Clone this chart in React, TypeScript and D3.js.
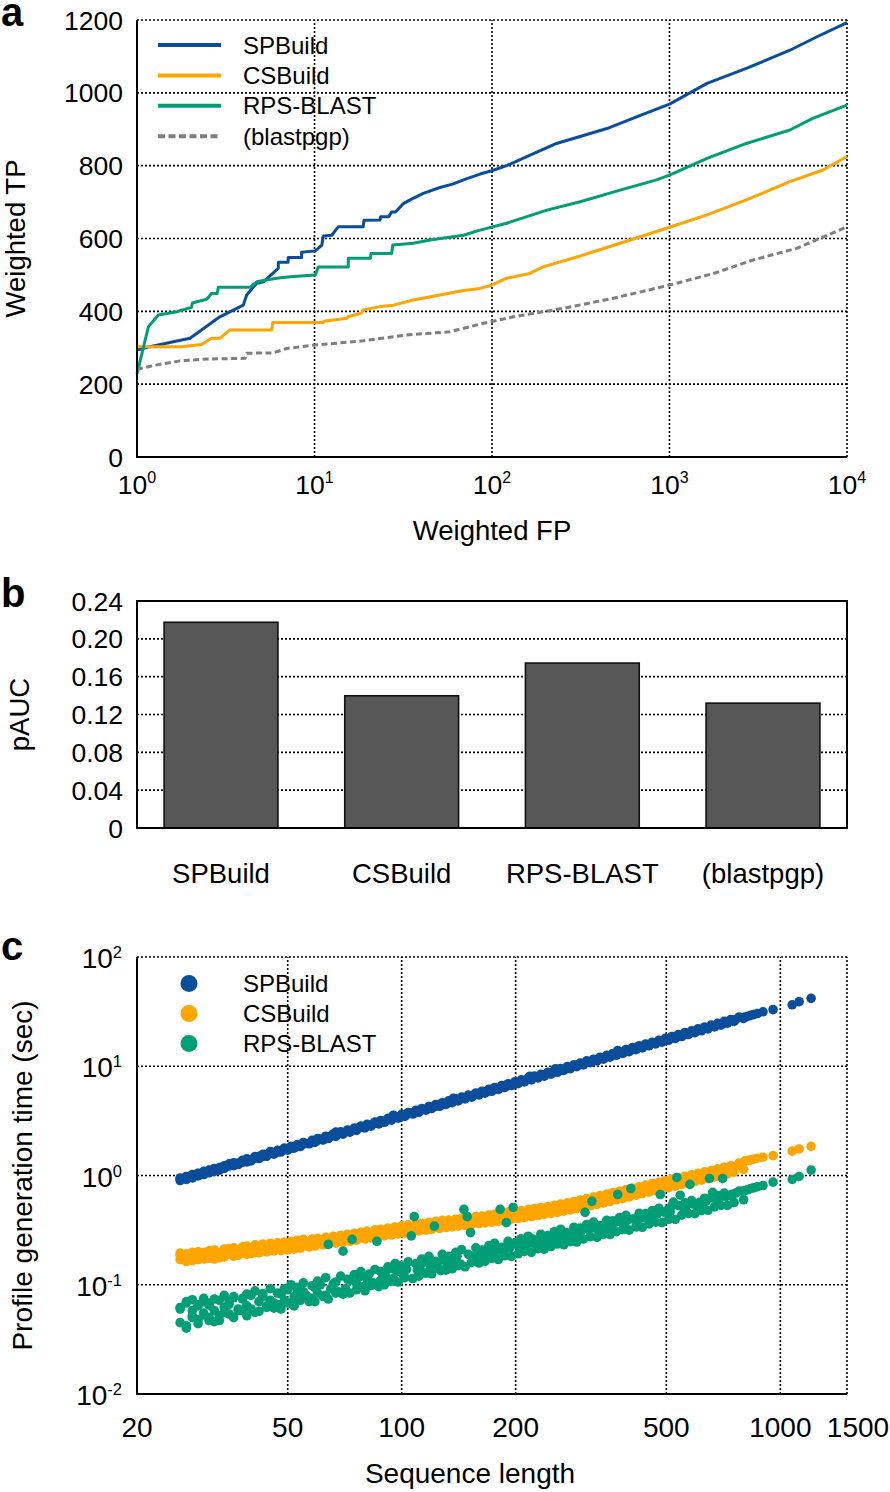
import React from 'react';
import * as d3 from 'd3';

const FONT = '"Liberation Sans", Arial, Helvetica, sans-serif';
const BLUE = '#0a4d9a';
const ORANGE = '#ffa500';
const GREEN = '#009e76';
const GRAY = '#7f7f7f';

// ---------- Panel a: weighted ROC-like curves ----------
const spbuildFP = [1, 1.18, 1.99, 2.93, 3.97, 4.15, 4.72, 5.15, 6.25, 6.25, 7.1, 7.1, 8.46, 8.46, 10.1, 11.0, 11.2, 12.5, 13.6, 18.8, 19.0, 23.4, 23.6, 26.2, 27.2, 28.6, 31.5, 34.5, 41, 50.9, 60.6, 69, 85.6, 99.6, 121, 157, 231, 444, 652, 1000, 1627, 2710, 4770, 6780, 10000];
const spbuildTP = [294, 303, 326, 385, 417, 445, 477, 481, 518, 535, 535, 548, 548, 562, 566, 582, 607, 609, 632, 632, 650, 651, 660, 660, 673, 673, 695, 706, 724, 740, 750, 761, 777, 786, 800, 825, 861, 902, 934, 969, 1026, 1067, 1117, 1154, 1193];
const csbuildFP = [1, 1.78, 2.31, 2.63, 2.93, 3.34, 5.74, 5.82, 11.2, 11.3, 15.3, 15.4, 18.4, 18.8, 23.4, 27.9, 36, 50.9, 69, 85.6, 99.6, 121, 163, 194, 314, 527, 1000, 1627, 2710, 4770, 7320, 10000];
const csbuildTP = [303, 303, 309, 326, 326, 349, 349, 369, 369, 373, 381, 385, 395, 404, 413, 417, 431, 445, 457, 463, 472, 491, 504, 522, 552, 587, 631, 665, 706, 756, 788, 825];
const rpsFP = [1, 1.16, 1.32, 1.67, 2.03, 2.05, 2.47, 2.63, 2.83, 2.87, 4.33, 4.72, 6.1, 7.3, 10.1, 10.5, 15.5, 15.5, 20.7, 20.8, 27.2, 27.6, 36, 44.8, 69, 85.6, 121, 204, 314, 527, 845, 1000, 1627, 2710, 4770, 6410, 10000];
const rpsTP = [228, 358, 390, 399, 411, 423, 433, 449, 449, 466, 466, 481, 491, 495, 500, 522, 522, 546, 546, 559, 559, 582, 587, 596, 609, 623, 642, 678, 701, 733, 761, 774, 820, 861, 898, 930, 966];
const blastFP = [1, 1.29, 1.75, 2.47, 4.06, 4.15, 5.87, 6.97, 9.85, 18.8, 33, 58, 85.6, 132, 251, 483, 1000, 1770, 2960, 5200, 10000];
const blastTP = [241, 253, 264, 269, 271, 285, 286, 298, 307, 319, 335, 344, 365, 385, 408, 436, 472, 504, 541, 573, 632];

const methodNames = ['SPBuild', 'CSBuild', 'RPS-BLAST', '(blastpgp)'];
const yTicksA = [0, 200, 400, 600, 800, 1000, 1200];
const xExpA = [0, 1, 2, 3, 4];

// ---------- Panel b: pAUC ----------
const pauc = [0.2175, 0.1398, 0.1744, 0.132];
const yTicksB = [0, 0.04, 0.08, 0.12, 0.16, 0.2, 0.24];
const yTickLabelsB = ['0', '0.04', '0.08', '0.12', '0.16', '0.20', '0.24'];

// ---------- Panel c: profile generation time ----------
const seqLengths = [
  26, 26, 27, 27, 28, 28, 29, 29, 30, 30,
  31, 31, 32, 33, 33, 34, 35, 35, 36, 37,
  38, 38, 39, 40, 41, 42, 43, 44, 45, 46,
  47, 48, 49, 50, 51, 52, 53, 54, 55, 56,
  58, 59, 60, 61, 63, 64, 65, 67, 68, 70,
  71, 73, 74, 76, 77, 79, 81, 82, 84, 86,
  88, 89, 91, 93, 95, 97, 99, 101, 103, 106,
  108, 110, 112, 115, 117, 119, 122, 124, 127, 129,
  132, 135, 137, 140, 143, 146, 149, 152, 155, 158,
  161, 165, 168, 171, 175, 178, 182, 186, 189, 193,
  197, 201, 205, 209, 213, 218, 222, 226, 231, 236,
  240, 245, 250, 255, 260, 266, 271, 276, 282, 288,
  293, 299, 305, 311, 318, 324, 331, 337, 344, 351,
  358, 365, 372, 380, 388, 395, 403, 411, 420, 428,
  437, 445, 454, 464, 473, 482, 492, 502, 512, 522,
  533, 544, 555, 566, 577, 589, 600, 612, 625, 637,
  650, 663, 676, 690, 704, 718, 732, 747, 762, 795,
  807, 820, 835, 850, 870, 900, 957, 1075, 1121, 1206,
];
const spbuildTime = [
  0.90, 0.93, 0.94, 0.97, 0.97, 1.00, 1.01, 1.04, 1.04, 1.07,
  1.08, 1.11, 1.12, 1.15, 1.18, 1.19, 1.22, 1.27, 1.26, 1.30,
  1.32, 1.36, 1.37, 1.40, 1.44, 1.50, 1.50, 1.55, 1.66, 1.62,
  1.64, 1.69, 1.72, 1.76, 1.78, 1.83, 1.86, 1.89, 1.94, 1.96,
  2.03, 2.09, 2.10, 2.16, 2.20, 2.25, 2.28, 2.50, 2.40, 2.45,
  2.49, 2.56, 2.60, 2.66, 2.72, 2.77, 2.84, 2.88, 2.95, 3.01,
  3.08, 3.13, 3.19, 3.26, 3.55, 3.40, 3.47, 3.54, 3.61, 3.72,
  3.79, 3.86, 3.93, 4.02, 4.11, 4.17, 4.28, 4.35, 4.44, 4.52,
  4.63, 4.72, 5.10, 4.91, 5.00, 5.12, 5.22, 5.33, 5.43, 5.53,
  5.64, 5.78, 5.88, 5.99, 6.13, 6.24, 6.37, 6.52, 6.62, 6.76,
  6.90, 7.04, 7.18, 7.32, 7.46, 8.10, 7.78, 7.91, 8.09, 8.27,
  8.41, 8.58, 8.76, 9.50, 9.11, 9.32, 9.49, 9.67, 9.88, 10.1,
  10.3, 10.5, 10.7, 10.9, 11.1, 11.3, 11.6, 11.8, 12.0, 12.3,
  12.5, 12.8, 13.9, 13.3, 13.6, 13.8, 14.1, 14.4, 14.7, 15.0,
  15.3, 15.6, 15.9, 16.2, 16.6, 16.9, 17.2, 17.6, 17.9, 18.3,
  18.7, 19.0, 19.4, 19.8, 20.2, 20.6, 21.0, 21.4, 21.9, 22.3,
  22.8, 23.2, 23.7, 24.2, 24.6, 25.1, 25.6, 26.1, 26.7, 27.8,
  28.2, 28.6, 29.2, 29.7, 30.4, 31.5, 33.0, 36.5, 39.0, 41.9,
];
const csbuildTime = [
  0.170, 0.185, 0.175, 0.168, 0.182, 0.176, 0.190, 0.172, 0.180, 0.186,
  0.184, 0.176, 0.190, 0.186, 0.196, 0.181, 0.193, 0.200, 0.188, 0.195,
  0.196, 0.206, 0.200, 0.212, 0.198, 0.214, 0.205, 0.222, 0.208, 0.215,
  0.212, 0.222, 0.216, 0.228, 0.220, 0.232, 0.224, 0.240, 0.226, 0.236,
  0.236, 0.244, 0.240, 0.250, 0.243, 0.256, 0.248, 0.262, 0.252, 0.258,
  0.260, 0.268, 0.264, 0.276, 0.268, 0.282, 0.274, 0.290, 0.280, 0.286,
  0.288, 0.300, 0.294, 0.306, 0.298, 0.314, 0.304, 0.320, 0.310, 0.326,
  0.318, 0.330, 0.324, 0.340, 0.330, 0.346, 0.336, 0.352, 0.342, 0.356,
  0.348, 0.360, 0.352, 0.366, 0.356, 0.372, 0.362, 0.378, 0.368, 0.382,
  0.376, 0.392, 0.384, 0.398, 0.390, 0.406, 0.396, 0.414, 0.404, 0.420,
  0.416, 0.432, 0.424, 0.440, 0.432, 0.450, 0.440, 0.458, 0.448, 0.466,
  0.462, 0.480, 0.474, 0.494, 0.486, 0.506, 0.498, 0.520, 0.510, 0.530,
  0.540, 0.556, 0.552, 0.574, 0.566, 0.590, 0.582, 0.606, 0.598, 0.624,
  0.640, 0.656, 0.668, 0.690, 0.684, 0.706, 0.702, 0.726, 0.722, 0.748,
  0.742, 0.768, 0.764, 0.790, 0.786, 0.816, 0.810, 0.840, 0.834, 0.866,
  0.860, 0.892, 0.890, 0.920, 0.916, 0.950, 0.946, 0.980, 0.976, 1.010,
  1.050, 1.070, 1.090, 1.110, 1.130, 1.150, 1.170, 1.200, 1.220, 1.290,
  1.36, 1.37, 1.39, 1.41, 1.44, 1.47, 1.52, 1.67, 1.75, 1.85,
];
const rpsTime = [
  0.045, 0.062, 0.040, 0.070, 0.052, 0.058, 0.066, 0.048, 0.075, 0.055,
  0.050, 0.068, 0.058, 0.072, 0.047, 0.062, 0.066, 0.054, 0.078, 0.060,
  0.058, 0.075, 0.064, 0.080, 0.056, 0.070, 0.083, 0.062, 0.072, 0.068,
  0.066, 0.082, 0.072, 0.090, 0.068, 0.078, 0.095, 0.074, 0.086, 0.080,
  0.075, 0.094, 0.084, 0.100, 0.080, 0.234, 0.092, 0.106, 0.086, 0.203,
  0.092, 0.110, 0.260, 0.102, 0.118, 0.096, 0.112, 0.125, 0.104, 0.250,
  0.110, 0.128, 0.118, 0.140, 0.114, 0.132, 0.150, 0.124, 0.138, 0.280,
  0.420, 0.136, 0.150, 0.128, 0.160, 0.142, 0.344, 0.155, 0.135, 0.168,
  0.150, 0.172, 0.160, 0.182, 0.155, 0.490, 0.420, 0.300, 0.176, 0.195,
  0.176, 0.200, 0.188, 0.212, 0.180, 0.205, 0.490, 0.196, 0.370, 0.218,
  0.510, 0.236, 0.220, 0.250, 0.212, 0.242, 0.262, 0.230, 0.256, 0.240,
  0.250, 0.276, 0.262, 0.288, 0.256, 0.280, 0.300, 0.272, 0.294, 0.284,
  0.292, 0.316, 0.460, 0.322, 0.580, 0.330, 0.316, 0.344, 0.330, 0.356,
  0.344, 0.370, 0.670, 0.376, 0.366, 0.392, 0.760, 0.400, 0.384, 0.414,
  0.410, 0.436, 0.428, 0.456, 0.444, 0.670, 0.462, 0.480, 0.466, 0.570,
  0.960, 0.660, 0.510, 0.536, 0.830, 0.548, 0.540, 0.568, 0.558, 0.584,
  0.940, 0.700, 0.610, 0.620, 0.940, 0.640, 0.660, 0.672, 0.690, 0.720,
  0.73, 0.74, 0.76, 0.77, 0.79, 0.81, 0.87, 0.92, 0.98, 1.12,
];
// second batch of sequences (dense region)
const seqLengths2 = [
  26, 27, 27, 28, 28, 29, 29, 30, 30, 31,
  31, 32, 32, 33, 34, 34, 35, 36, 36, 37,
  38, 39, 39, 40, 41, 42, 43, 44, 45, 46,
  47, 48, 49, 50, 51, 52, 53, 54, 55, 57,
  58, 59, 60, 62, 63, 64, 66, 67, 69, 70,
  72, 73, 75, 76, 78, 80, 81, 83, 85, 87,
  88, 90, 92, 94, 96, 98, 100, 102, 104, 107,
  109, 111, 113, 116, 118, 120, 123, 126, 128, 131,
  133, 136, 139, 141, 144, 147, 150, 153, 157, 160,
  163, 166, 170, 173, 176, 180, 184, 187, 191, 195,
  199, 203, 207, 211, 216, 220, 224, 229, 233, 238,
  243, 248, 253, 258, 263, 268, 274, 279, 285, 290,
  296, 302, 308, 315, 321, 328, 334, 341, 348, 355,
  361, 369, 376, 384, 391, 399, 407, 416, 424, 432,
  441, 450, 459, 468, 478, 487, 497, 507, 517, 528,
  538, 549, 560, 572, 583, 595, 606, 619, 631, 644,
  657, 670, 683, 697, 711, 725, 740, 755, 778, 800,
];
const spbuildTime2 = [
  0.95, 0.92, 0.98, 0.95, 1.02, 0.99, 1.05, 1.02, 1.09, 1.06,
  1.12, 1.09, 1.16, 1.12, 1.23, 1.16, 1.27, 1.23, 1.31, 1.26,
  1.38, 1.33, 1.42, 1.36, 1.49, 1.43, 1.56, 1.50, 1.63, 1.57,
  1.70, 1.64, 1.78, 1.71, 1.85, 1.78, 1.92, 1.84, 2.00, 1.95,
  2.10, 2.01, 2.18, 2.11, 2.29, 2.18, 2.40, 2.28, 2.51, 2.39,
  2.61, 2.49, 2.72, 2.59, 2.83, 2.73, 2.94, 2.83, 3.09, 2.97,
  3.19, 3.07, 3.34, 3.21, 3.48, 3.35, 3.63, 3.48, 3.77, 3.65,
  3.95, 3.79, 4.10, 3.96, 4.28, 4.10, 4.46, 4.30, 4.64, 4.47,
  4.82, 4.64, 5.04, 4.81, 5.22, 5.02, 5.44, 5.22, 5.69, 5.46,
  5.91, 5.67, 6.16, 5.90, 6.38, 6.14, 6.67, 6.38, 6.92, 6.66,
  7.21, 6.93, 7.50, 7.20, 7.83, 7.51, 8.12, 7.82, 8.44, 8.12,
  8.80, 8.47, 9.17, 8.81, 9.53, 9.15, 9.93, 9.52, 10.3, 9.90,
  10.7, 10.3, 11.2, 10.8, 11.6, 11.2, 12.1, 11.6, 12.6, 12.1,
  13.1, 12.6, 13.6, 13.1, 14.2, 13.6, 14.8, 14.2, 15.4, 14.7,
  16.0, 15.4, 16.6, 16.0, 17.3, 16.6, 18.0, 17.3, 18.7, 18.0,
  19.5, 18.7, 20.3, 19.5, 21.1, 20.3, 22.0, 21.1, 22.9, 22.0,
  23.8, 22.9, 24.7, 23.8, 25.8, 24.8, 26.8, 25.8, 28.2, 27.4,
];
const csbuildTime2 = [
  0.195, 0.163, 0.192, 0.166, 0.198, 0.170, 0.200, 0.172, 0.197, 0.175,
  0.205, 0.172, 0.208, 0.176, 0.212, 0.180, 0.215, 0.183, 0.218, 0.186,
  0.222, 0.190, 0.226, 0.193, 0.232, 0.196, 0.236, 0.200, 0.240, 0.204,
  0.242, 0.205, 0.246, 0.209, 0.250, 0.212, 0.255, 0.216, 0.260, 0.222,
  0.262, 0.226, 0.266, 0.232, 0.272, 0.236, 0.278, 0.240, 0.284, 0.246,
  0.290, 0.250, 0.296, 0.256, 0.302, 0.262, 0.310, 0.268, 0.318, 0.276,
  0.322, 0.280, 0.330, 0.285, 0.338, 0.292, 0.346, 0.298, 0.354, 0.306,
  0.360, 0.310, 0.366, 0.316, 0.372, 0.322, 0.380, 0.328, 0.388, 0.334,
  0.392, 0.338, 0.398, 0.344, 0.406, 0.350, 0.412, 0.356, 0.420, 0.362,
  0.426, 0.368, 0.434, 0.374, 0.442, 0.380, 0.452, 0.388, 0.462, 0.398,
  0.468, 0.404, 0.478, 0.412, 0.488, 0.420, 0.498, 0.430, 0.510, 0.440,
  0.520, 0.450, 0.534, 0.460, 0.548, 0.472, 0.562, 0.484, 0.578, 0.498,
  0.596, 0.512, 0.614, 0.528, 0.634, 0.544, 0.654, 0.560, 0.676, 0.580,
  0.696, 0.600, 0.718, 0.618, 0.742, 0.638, 0.766, 0.660, 0.790, 0.682,
  0.816, 0.704, 0.842, 0.726, 0.868, 0.750, 0.896, 0.774, 0.924, 0.800,
  0.954, 0.826, 0.984, 0.852, 1.016, 0.880, 1.048, 0.906, 1.080, 0.936,
  1.110, 0.966, 1.150, 1.000, 1.190, 1.036, 1.230, 1.074, 1.300, 1.140,
];
const rpsTime2 = [
  0.060, 0.042, 0.068, 0.050, 0.073, 0.044, 0.064, 0.053, 0.070, 0.047,
  0.065, 0.046, 0.074, 0.052, 0.080, 0.056, 0.070, 0.050, 0.076, 0.058,
  0.074, 0.052, 0.082, 0.060, 0.088, 0.057, 0.078, 0.064, 0.092, 0.061,
  0.084, 0.060, 0.092, 0.068, 0.100, 0.064, 0.088, 0.072, 0.104, 0.070,
  0.098, 0.070, 0.108, 0.078, 0.116, 0.074, 0.102, 0.084, 0.120, 0.082,
  0.112, 0.084, 0.124, 0.090, 0.132, 0.088, 0.118, 0.098, 0.138, 0.096,
  0.132, 0.100, 0.146, 0.108, 0.156, 0.106, 0.140, 0.116, 0.162, 0.114,
  0.156, 0.120, 0.172, 0.128, 0.182, 0.126, 0.164, 0.138, 0.190, 0.136,
  0.182, 0.140, 0.198, 0.150, 0.210, 0.146, 0.190, 0.160, 0.218, 0.158,
  0.208, 0.164, 0.228, 0.174, 0.240, 0.170, 0.220, 0.184, 0.250, 0.182,
  0.242, 0.192, 0.264, 0.202, 0.278, 0.198, 0.256, 0.214, 0.290, 0.212,
  0.282, 0.224, 0.306, 0.236, 0.322, 0.232, 0.298, 0.248, 0.336, 0.246,
  0.330, 0.262, 0.356, 0.276, 0.374, 0.272, 0.346, 0.290, 0.390, 0.288,
  0.384, 0.306, 0.412, 0.320, 0.432, 0.316, 0.400, 0.338, 0.452, 0.336,
  0.448, 0.360, 0.478, 0.374, 0.502, 0.370, 0.466, 0.396, 0.528, 0.396,
  0.530, 0.434, 0.562, 0.450, 0.590, 0.448, 0.552, 0.478, 0.620, 0.480,
  0.624, 0.516, 0.656, 0.532, 0.690, 0.532, 0.650, 0.566, 0.720, 0.600,
];
const scatterNames = ['SPBuild', 'CSBuild', 'RPS-BLAST'];
const xTicksC = [20, 50, 100, 200, 500, 1000, 1500];
const yExpC = [-2, -1, 0, 1, 2];

const GRID = { stroke: '#000', strokeWidth: 1.6, strokeDasharray: '2,2' };

function Pow({ exp, size, supSize, dy }: { exp: number; size: number; supSize: number; dy: number }) {
  return (
    <>
      <tspan fontSize={size}>10</tspan>
      <tspan fontSize={supSize} dy={dy}>{String(exp)}</tspan>
    </>
  );
}

export default function App() {
  // Panel a scales
  const xA = d3.scaleLog().domain([1, 1e4]).range([137, 847]);
  const yA = d3.scaleLinear().domain([0, 1200]).range([457, 20]);
  const lineA = d3.line<[number, number]>().x(d => xA(d[0])).y(d => yA(d[1]));
  const seriesA = [
    { name: methodNames[0], color: BLUE, fp: spbuildFP, tp: spbuildTP, dash: undefined },
    { name: methodNames[1], color: ORANGE, fp: csbuildFP, tp: csbuildTP, dash: undefined },
    { name: methodNames[2], color: GREEN, fp: rpsFP, tp: rpsTP, dash: undefined },
    { name: methodNames[3], color: GRAY, fp: blastFP, tp: blastTP, dash: '6,3.5' },
  ];

  // Panel b scales
  const xB = d3.scaleBand<string>().domain(methodNames).range([137, 847]).paddingInner(0.37).paddingOuter(0.15);
  const yB = d3.scaleLinear().domain([0, 0.24]).range([828, 601]);

  // Panel c scales
  const xC = d3.scaleLog().domain([20, 1500]).range([137, 847]);
  const yC = d3.scaleLog().domain([0.01, 100]).range([1394, 957]);
  const seriesC = [
    { name: scatterNames[0], color: BLUE, t: spbuildTime, t2: spbuildTime2 },
    { name: scatterNames[1], color: ORANGE, t: csbuildTime, t2: csbuildTime2 },
    { name: scatterNames[2], color: GREEN, t: rpsTime, t2: rpsTime2 },
  ];

  const tickFs = 26.5;
  const titleFs = 27.5;

  return (
    <svg width={890} height={1492} style={{ position: 'absolute', left: 0, top: 0, background: '#fff' }} fontFamily={FONT}>
      <rect x={0} y={0} width={890} height={1492} fill="#fff" />

      {/* ================= Panel a ================= */}
      <text x={1} y={26} fontSize={40} fontWeight="bold">a</text>
      {yTicksA.filter(v => v > 0).map(v => (
        <line key={'ga' + v} x1={xA(1)} x2={xA(1e4)} y1={yA(v)} y2={yA(v)} {...GRID} />
      ))}
      {xExpA.filter(e => e > 0).map(e => (
        <line key={'gxa' + e} x1={xA(10 ** e)} x2={xA(10 ** e)} y1={yA(0)} y2={yA(1200)} {...GRID} />
      ))}
      {seriesA.map(s => (
        <path key={s.name} d={lineA(s.fp.map((f, i) => [f, s.tp[i]] as [number, number])) || ''}
          fill="none" stroke={s.color} strokeWidth={3} strokeDasharray={s.dash} strokeLinejoin="round" />
      ))}
      <line x1={xA(1)} x2={xA(1)} y1={yA(0) + 1} y2={yA(1200)} stroke="#000" strokeWidth={2} />
      <line x1={xA(1) - 1} x2={xA(1e4)} y1={yA(0)} y2={yA(0)} stroke="#000" strokeWidth={2.2} />
      {yTicksA.map(v => (
        <text key={'ta' + v} x={123} y={yA(v) + 9.5} fontSize={tickFs} textAnchor="end">{v}</text>
      ))}
      {xExpA.map(e => (
        <text key={'txa' + e} x={xA(10 ** e)} y={494} textAnchor="middle">
          <Pow exp={e} size={tickFs} supSize={16} dy={-11} />
        </text>
      ))}
      <text x={492} y={540} fontSize={titleFs} textAnchor="middle">Weighted FP</text>
      <text transform={`translate(25,${(yA(0) + yA(1200)) / 2}) rotate(-90)`} fontSize={titleFs} textAnchor="middle">Weighted TP</text>
      {/* legend a */}
      {seriesA.map((s, i) => (
        <g key={'la' + s.name}>
          <line x1={158} x2={221} y1={45 + i * 30.4} y2={45 + i * 30.4} stroke={s.color} strokeWidth={4} strokeDasharray={s.dash ? '7,3.5' : undefined} />
          <text x={243} y={45 + i * 30.4 + 8.5} fontSize={24}>{s.name}</text>
        </g>
      ))}

      {/* ================= Panel b ================= */}
      <text x={1} y={607} fontSize={40} fontWeight="bold">b</text>
      {yTicksB.filter((v, i) => i > 0 && i < yTicksB.length - 1).map(v => (
        <line key={'gb' + v} x1={137} x2={847} y1={yB(v)} y2={yB(v)} {...GRID} />
      ))}
      {methodNames.map((m, i) => (
        <rect key={'bar' + m} x={xB(m)} y={yB(pauc[i])} width={xB.bandwidth()} height={yB(0) - yB(pauc[i])}
          fill="#575757" stroke="#111" strokeWidth={1.6} />
      ))}
      <rect x={137} y={yB(0.24)} width={710} height={yB(0) - yB(0.24)} fill="none" stroke="#000" strokeWidth={2} />
      {yTicksB.map((v, i) => (
        <text key={'tb' + v} x={123} y={yB(v) + 9.5} fontSize={tickFs} textAnchor="end">{yTickLabelsB[i]}</text>
      ))}
      {methodNames.map(m => (
        <text key={'lb' + m} x={(xB(m) || 0) + xB.bandwidth() / 2} y={883} fontSize={titleFs} textAnchor="middle">{m}</text>
      ))}
      <text transform={`translate(29,${(yB(0) + yB(0.24)) / 2}) rotate(-90)`} fontSize={titleFs} textAnchor="middle">pAUC</text>

      {/* ================= Panel c ================= */}
      <text x={1} y={960} fontSize={40} fontWeight="bold">c</text>
      {yExpC.filter(e => e > -2).map(e => (
        <line key={'gc' + e} x1={137} x2={847} y1={yC(10 ** e)} y2={yC(10 ** e)} {...GRID} />
      ))}
      {xTicksC.filter(v => v > 20).map(v => (
        <line key={'gxc' + v} x1={xC(v)} x2={xC(v)} y1={yC(0.01)} y2={yC(100)} {...GRID} />
      ))}
      {seriesC.map(s => (
        <g key={'sc' + s.name} fill={s.color}>
          {seqLengths.map((L, i) => (
            <circle key={'a' + i} cx={xC(L)} cy={yC(s.t[i])} r={4.8} />
          ))}
          {seqLengths2.map((L, i) => (
            <circle key={'b' + i} cx={xC(L)} cy={yC(s.t2[i])} r={4.8} />
          ))}
        </g>
      ))}
      <line x1={137} x2={137} y1={yC(0.01) + 1} y2={yC(100)} stroke="#000" strokeWidth={2} />
      <line x1={136} x2={847} y1={yC(0.01)} y2={yC(0.01)} stroke="#000" strokeWidth={2.2} />
      {yExpC.map(e => (
        <text key={'tyc' + e} x={122} y={yC(10 ** e) + 11} textAnchor="end">
          <Pow exp={e} size={28} supSize={16.5} dy={-10} />
        </text>
      ))}
      {xTicksC.map((v, i) => (
        <text key={'txc' + v} x={xC(v) + (i === xTicksC.length - 1 ? 11 : 0)} y={1437} fontSize={28} textAnchor="middle">{v}</text>
      ))}
      <text x={470} y={1483} fontSize={28} textAnchor="middle">Sequence length</text>
      <text transform={`translate(32,${(yC(0.01) + yC(100)) / 2}) rotate(-90)`} fontSize={28} textAnchor="middle">Profile generation time (sec)</text>
      {seriesC.map((s, i) => (
        <g key={'lc' + s.name}>
          <circle cx={189} cy={983.5 + i * 30} r={8.5} fill={s.color} />
          <text x={243} y={983.5 + i * 30 + 8.5} fontSize={24}>{s.name}</text>
        </g>
      ))}
    </svg>
  );
}
